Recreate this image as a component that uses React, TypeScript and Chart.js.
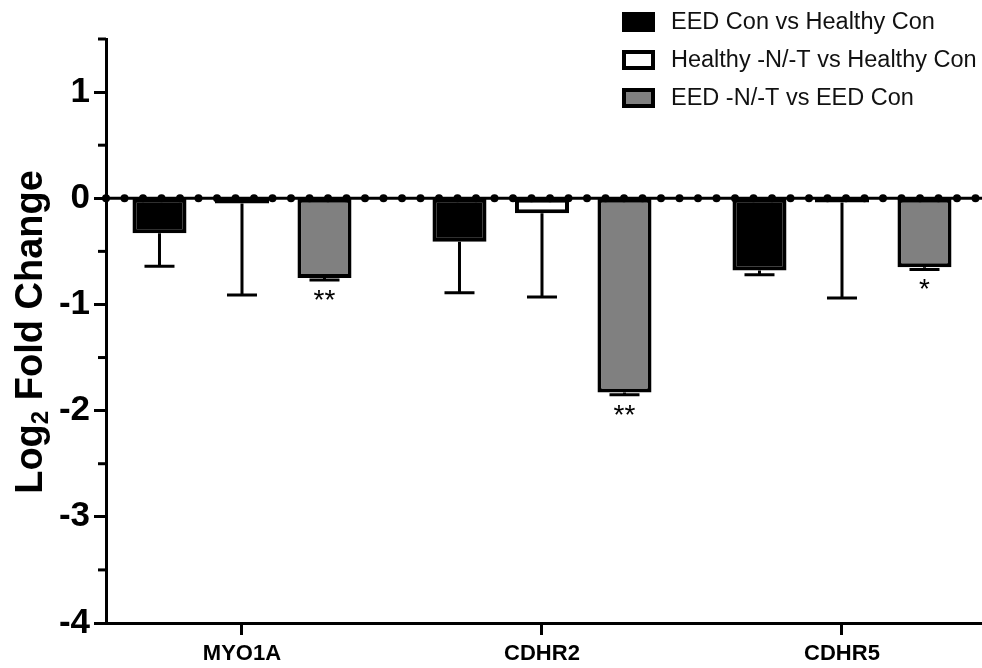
import React, { useEffect, useRef } from 'react';
import { Chart, registerables } from 'chart.js';

Chart.register(...registerables);

// ---------- data ----------
const categories = ['MYO1A', 'CDHR2', 'CDHR5'];
const seriesLabels = ['EED Con vs Healthy Con', 'Healthy -N/-T vs Healthy Con', 'EED -N/-T vs EED Con'];

const eedConVsHealthyCon = [-0.33, -0.41, -0.68];
const eedConVsHealthyConErr = [0.31, 0.48, 0.04];
const eedConVsHealthyConSig = ['', '', ''];

const healthyNTVsHealthyCon = [-0.05, -0.14, -0.04];
const healthyNTVsHealthyConErr = [0.86, 0.79, 0.9];
const healthyNTVsHealthyConSig = ['', '', ''];

const eedNTVsEedCon = [-0.75, -1.83, -0.65];
const eedNTVsEedConErr = [0.02, 0.02, 0.02];
const eedNTVsEedConSig = ['**', '**', '*'];

const yMin = -4;
const yMax = 1.5;
const yStep = 0.5;
const yTitleParts = ['Log', '2', ' Fold Change']; // "2" is a subscript

// ---------- styles ----------
const FONT = "'Liberation Sans', Arial, Helvetica, sans-serif";
const seriesFill = ['#000000', '#ffffff', '#808080'];
const seriesValues = [eedConVsHealthyCon, healthyNTVsHealthyCon, eedNTVsEedCon];
const seriesErrors = [eedConVsHealthyConErr, healthyNTVsHealthyConErr, eedNTVsEedConErr];
const seriesSig = [eedConVsHealthyConSig, healthyNTVsHealthyConSig, eedNTVsEedConSig];

const zeroLinePlugin = {
  id: 'zeroLine',
  afterDatasetsDraw(chart: any) {
    const { ctx, chartArea } = chart;
    const y = chart.scales.y.getPixelForValue(0);
    ctx.save();
    ctx.strokeStyle = '#000';
    ctx.fillStyle = '#000';
    ctx.lineWidth = 3;
    ctx.beginPath();
    ctx.moveTo(chartArea.left, y);
    ctx.lineTo(chartArea.right, y);
    ctx.stroke();
    for (let x = chartArea.left; x <= chartArea.right + 2; x += 18.5) {
      ctx.beginPath();
      ctx.arc(x, y, 4, 0, Math.PI * 2);
      ctx.fill();
    }
    ctx.restore();
  },
};

const errorBarPlugin = {
  id: 'errorBars',
  afterDatasetsDraw(chart: any) {
    const { ctx } = chart;
    const yScale = chart.scales.y;
    chart.data.datasets.forEach((ds: any, di: number) => {
      const meta = chart.getDatasetMeta(di);
      const errs = seriesErrors[di];
      const sig = seriesSig[di];
      meta.data.forEach((el: any, i: number) => {
        const v = seriesValues[di][i];
        const e = errs[i];
        const x = el.x;
        const y0 = yScale.getPixelForValue(v);
        const y1 = yScale.getPixelForValue(v - e);
        ctx.save();
        ctx.strokeStyle = '#000';
        ctx.lineWidth = 3;
        ctx.beginPath();
        ctx.moveTo(x, y0);
        ctx.lineTo(x, y1);
        ctx.moveTo(x - 15, y1);
        ctx.lineTo(x + 15, y1);
        ctx.stroke();
        if (sig[i]) {
          ctx.fillStyle = '#000';
          ctx.font = `28px ${FONT}`;
          ctx.textAlign = 'center';
          ctx.textBaseline = 'alphabetic';
          ctx.fillText(sig[i], x, y1 + 29);
        }
        ctx.restore();
      });
    });
  },
};

const minorTickPlugin = {
  id: 'minorTicks',
  afterDraw(chart: any) {
    const { ctx } = chart;
    const s = chart.scales.y;
    ctx.save();
    ctx.strokeStyle = '#000';
    ctx.lineWidth = 3;
    s.ticks.forEach((t: any) => {
      if (Number.isInteger(t.value)) return;
      const y = s.getPixelForValue(t.value);
      ctx.beginPath();
      ctx.moveTo(s.right - 8, y);
      ctx.lineTo(s.right, y);
      ctx.stroke();
    });
    ctx.restore();
  },
};

const yTitlePlugin = {
  id: 'yTitle',
  afterDraw(chart: any) {
    const { ctx, chartArea } = chart;
    const big = `bold 38px ${FONT}`;
    const small = `bold 24px ${FONT}`;
    ctx.save();
    ctx.font = big;
    const w0 = ctx.measureText(yTitleParts[0]).width;
    const w2 = ctx.measureText(yTitleParts[2]).width;
    ctx.font = small;
    const w1 = ctx.measureText(yTitleParts[1]).width;
    const total = w0 + w1 + w2;
    const cy = (chartArea.top + chartArea.bottom) / 2 + 1;
    ctx.translate(42, cy);
    ctx.rotate(-Math.PI / 2);
    ctx.fillStyle = '#000';
    ctx.textAlign = 'left';
    ctx.textBaseline = 'alphabetic';
    let x = -total / 2;
    ctx.font = big;
    ctx.fillText(yTitleParts[0], x, 0);
    x += w0;
    ctx.font = small;
    ctx.fillText(yTitleParts[1], x, 6);
    x += w1;
    ctx.font = big;
    ctx.fillText(yTitleParts[2], x, 0);
    ctx.restore();
  },
};

const legendPlugin = {
  id: 'customLegend',
  afterDraw(chart: any) {
    const { ctx } = chart;
    const boxX = 622;
    const boxW = 33;
    const boxH = 20;
    const rowY = [22, 60, 98];
    ctx.save();
    chart.data.datasets.forEach((ds: any, i: number) => {
      const cy = rowY[i];
      ctx.fillStyle = ds.backgroundColor;
      ctx.fillRect(boxX, cy - boxH / 2, boxW, boxH);
      ctx.strokeStyle = '#000';
      ctx.lineWidth = 4;
      ctx.strokeRect(boxX + 2, cy - boxH / 2 + 2, boxW - 4, boxH - 4);
      ctx.fillStyle = '#111';
      ctx.font = `23.5px ${FONT}`;
      ctx.textAlign = 'left';
      ctx.textBaseline = 'middle';
      ctx.fillText(ds.label, 671, cy + 1);
    });
    ctx.restore();
  },
};

export default function App() {
  const ref = useRef<HTMLCanvasElement | null>(null);

  useEffect(() => {
    if (!ref.current) return;
    const chart = new Chart(ref.current, {
      type: 'bar',
      data: {
        datasets: seriesLabels.map((label, di) => ({
          label,
          data: categories.map((_, i) => ({ x: i, y: seriesValues[di][i] })),
          backgroundColor: seriesFill[di],
          borderColor: '#000',
          borderWidth: 4,
          borderSkipped: false,
          categoryPercentage: 0.825,
          barPercentage: 0.655,
        })),
      },
      options: {
        responsive: false,
        animation: false,
        devicePixelRatio: 1,
        events: [],
        layout: { padding: { top: 39, right: 0, bottom: 0, left: 0 } },
        plugins: { legend: { display: false }, tooltip: { enabled: false } },
        scales: {
          x: {
            type: 'linear',
            min: -0.4533,
            max: 2.4667,
            offset: false,
            grid: {
              display: true,
              offset: false,
              drawOnChartArea: false,
              drawTicks: true,
              tickLength: 12,
              tickWidth: 3,
              tickColor: '#000',
            },
            border: { display: true, color: '#000', width: 3 },
            afterBuildTicks: (s: any) => {
              s.ticks = categories.map((_, i) => ({ value: i }));
            },
            afterFit: (s: any) => {
              s.height = 45;
            },
            ticks: {
              autoSkip: false,
              maxRotation: 0,
              minRotation: 0,
              padding: 6,
              color: '#000',
              font: { family: FONT, size: 22, weight: 'bold' },
              callback: (v: any) => categories[v] ?? '',
            },
          },
          y: {
            type: 'linear',
            min: yMin,
            max: yMax,
            grid: {
              display: true,
              drawOnChartArea: false,
              drawTicks: true,
              tickLength: 12,
              tickWidth: 3,
              tickColor: (c: any) => (Number.isInteger(c.tick?.value) ? '#000' : 'rgba(0,0,0,0)'),
            },
            border: { display: true, color: '#000', width: 3 },
            afterFit: (s: any) => {
              s.width = 106;
            },
            ticks: {
              stepSize: yStep,
              autoSkip: false,
              padding: 4,
              color: '#000',
              font: { family: FONT, size: 35, weight: 'bold' },
              callback: (v: any) => (Number.isInteger(v) ? String(v) : ''),
            },
            title: { display: false },
          },
        },
      },
      plugins: [zeroLinePlugin, errorBarPlugin, minorTickPlugin, yTitlePlugin, legendPlugin],
    } as any);
    return () => chart.destroy();
  }, []);

  return (
    <div style={{ position: 'fixed', left: 0, top: 0, width: 982, height: 668, background: '#fff' }}>
      <canvas ref={ref} width={982} height={668} />
    </div>
  );
}
